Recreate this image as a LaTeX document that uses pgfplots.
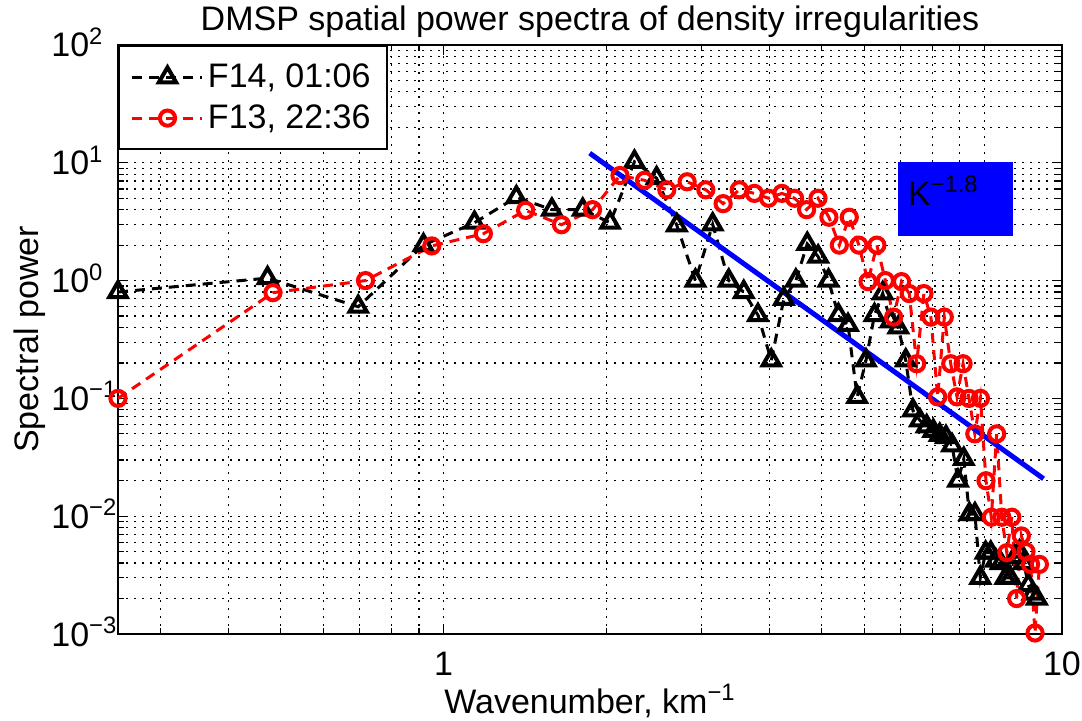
\documentclass[border=0pt]{standalone}
\usepackage{fontspec}
\setmainfont{Liberation Sans}
\usepackage{pgfplots}
\pgfplotsset{compat=1.18}

\begin{document}
\begin{tikzpicture}[font=\fontsize{17}{20}\selectfont]
\begin{axis}[
  at={(0,0)}, anchor=south west,
  scale only axis, width=472pt, height=294.5pt,
  xmode=log, ymode=log,
  xmin=0.25, xmax=13.9, ymin=1e-3, ymax=1e2,
  xtick={1,13.9}, xticklabels={1,10},
  minor xtick={0.3,0.4,0.5,0.6,0.7,0.8,0.9,2,3,4,5,6,7,8,9,10},
  ytick={1e-3,1e-2,1e-1,1,10,100},
  yticklabels={10\textsuperscript{−3},10\textsuperscript{−2},10\textsuperscript{−1},10\textsuperscript{0},10\textsuperscript{1},10\textsuperscript{2}},
  minor ytick={0.002,0.003,0.004,0.005,0.006,0.007,0.008,0.009,
               0.02,0.03,0.04,0.05,0.06,0.07,0.08,0.09,
               0.2,0.3,0.4,0.5,0.6,0.7,0.8,0.9,
               2,3,4,5,6,7,8,9,20,30,40,50,60,70,80,90},
  grid=both,
  major grid style={black, line width=0.6pt, dash pattern=on 1pt off 3pt},
  minor grid style={black, line width=0.6pt, dash pattern=on 1pt off 3pt},
  major tick length=5pt, minor tick length=3pt,
  tick style={black, line width=0.6pt},
  axis line style={line width=1pt},
  xticklabel style={anchor=base, inner sep=0pt, yshift=-20.5pt},
  yticklabel style={anchor=base west, inner sep=0pt, xshift=-33.5pt, yshift=-6pt},
  title={DMSP spatial power spectra of density irregularities},
  every axis title/.style={at={(0.5,1)}, anchor=base, inner sep=0pt, yshift=7pt},
  xlabel={Wavenumber, km\textsuperscript{−1}},
  xlabel style={at={(axis description cs:0.5,0)}, anchor=base, inner sep=0pt, yshift=-39.5pt},
  ylabel={Spectral power},
  ylabel style={at={(axis description cs:-0.0932,0.5)}, rotate=0, anchor=center, inner sep=0pt},
  legend style={at={(0,1)}, anchor=north west, draw=black, line width=1pt,
    inner xsep=6pt, inner ysep=7pt, row sep=3pt,
    nodes={inner sep=2pt}},
  legend cell align=left,
  legend image code/.code={\draw[mark repeat=2,mark phase=2,#1] plot coordinates {(0pt,0pt) (17.5pt,0pt) (35pt,0pt)};},
]
% F14, 01:06
\addplot[black, line width=1.5pt, dash pattern=on 5pt off 3.5pt,
  mark=triangle, mark size=5pt, mark options={solid, line width=2pt}]
coordinates {
(0.25,0.80) (0.4725,1.05) (0.695,0.60) (0.9175,2.0) (1.14,3.1)
(1.3625,5.1) (1.585,4.0) (1.8075,4.0) (2.03,3.1) (2.2525,10.2)
(2.475,7.4) (2.6975,2.95) (2.92,1.0) (3.1425,3.0) (3.365,1.0)
(3.5875,0.80) (3.81,0.51) (4.0325,0.21) (4.255,0.70) (4.4775,1.0)
(4.70,2.05) (4.9225,1.6) (5.145,1.0) (5.3675,0.51) (5.59,0.42)
(5.8125,0.103) (6.035,0.21) (6.2575,0.51) (6.48,0.78) (6.7025,0.45)
(6.925,0.40) (7.1475,0.21) (7.37,0.079) (7.5925,0.065) (7.815,0.058)
(8.0375,0.053) (8.26,0.049) (8.4825,0.047) (8.705,0.040) (8.9275,0.020)
(9.15,0.0306) (9.3725,0.0104) (9.595,0.0104) (9.8175,0.003) (10.04,0.0049)
(10.2625,0.0049) (10.485,0.0042) (10.7075,0.004) (10.93,0.003) (11.1525,0.003)
(11.375,0.0045) (11.5975,0.005) (11.82,0.004) (12.0425,0.0026) (12.265,0.0022)
(12.4875,0.002)
};
\addlegendentry{F14, 01:06}
% F13, 22:36
\addplot[red, line width=1.5pt, dash pattern=on 5pt off 3.5pt,
  mark=o, mark size=3.8pt, mark options={solid, line width=2pt}]
coordinates {
(0.25,0.10) (0.4835,0.79) (0.717,1.0) (0.9505,1.97) (1.184,2.5)
(1.4175,3.95) (1.651,2.98) (1.8845,4.0) (2.118,7.8) (2.3515,7.1)
(2.585,5.9) (2.8185,6.9) (3.052,5.9) (3.2855,4.5) (3.519,5.9)
(3.7525,5.5) (3.986,5.0) (4.2195,5.5) (4.453,5.0) (4.6865,4.0)
(4.92,5.0) (5.1535,3.45) (5.387,2.0) (5.6205,3.45) (5.854,2.0)
(6.0875,0.98) (6.321,2.0) (6.5545,1.0) (6.788,0.49) (7.0215,0.98)
(7.255,0.776) (7.4885,0.197) (7.722,0.776) (7.9555,0.49) (8.189,0.103)
(8.4225,0.49) (8.656,0.197) (8.8895,0.103) (9.123,0.197) (9.3565,0.10)
(9.59,0.05) (9.8235,0.10) (10.057,0.02) (10.29,0.0098) (10.525,0.05)
(10.758,0.0098) (10.99,0.0049) (11.225,0.0098) (11.4585,0.002) (11.692,0.0068)
(11.9255,0.005) (12.159,0.0039) (12.3925,0.00102) (12.626,0.0039)
};
\addlegendentry{F13, 22:36}
% power-law fit
\addplot[blue, line width=2.5pt, forget plot] coordinates {(1.862,12.07) (12.85,0.0208)};
\node[fill=blue, draw=blue, minimum width=57pt, minimum height=36.5pt, inner sep=0pt] (kb) at (rel axis cs:0.8867,0.7394) {};
\node[anchor=base west, inner sep=0pt] at ([xshift=5pt, yshift=15pt]kb.south west) {K\textsuperscript{−1.8}};
\end{axis}
\pgfresetboundingbox
\path (-59pt,-43.5pt) rectangle (482pt,317pt);
\end{tikzpicture}
\end{document}
